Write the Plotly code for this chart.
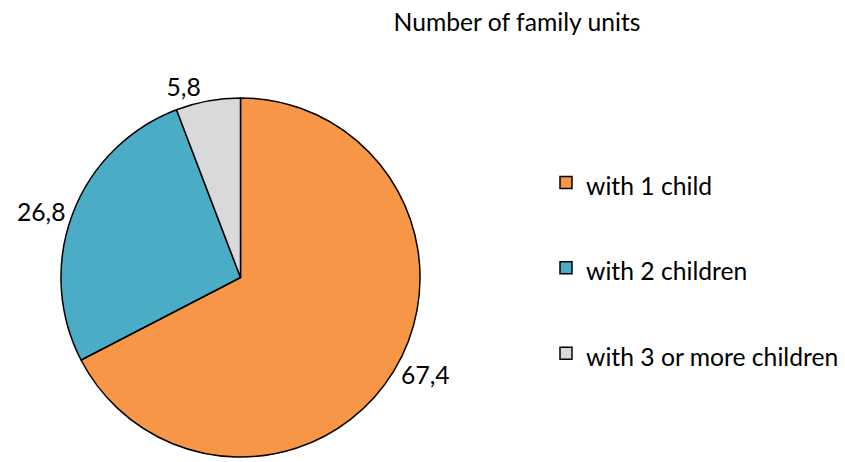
import plotly.graph_objects as go

labels = ["with 1 child", "with 2 children", "with 3 or more children"]
values = [67.4, 26.8, 5.8]
colors = ["#F79646", "#4BACC6", "#D9D9D9"]
title_text = "Number of family units"

W, H = 845, 462
cx, cy, r = 240.5, 280.5, 181.5
FONT = "Lato, Open Sans, sans-serif"
FS = 24.7

legend_labels = ["<span style='font-size:%spx'>%s</span><br> " % (FS, l) for l in labels]

fig = go.Figure(go.Pie(
    labels=legend_labels,
    values=values,
    sort=False,
    direction="clockwise",
    rotation=0,
    marker=dict(colors=colors, line=dict(color="black", width=1.5)),
    textposition="outside",
    texttemplate="%{value:.1f}",
    textfont=dict(size=FS, color="black", family=FONT),
    hoverinfo="skip",
    domain=dict(x=[(cx - r) / W, (cx + r) / W], y=[(H - cy - r) / H, (H - cy + r) / H]),
))

fig.update_layout(
    width=W, height=H,
    margin=dict(l=0, r=0, t=0, b=0),
    paper_bgcolor="white",
    separators=",.",
    font=dict(family=FONT, size=FS, color="black"),
    title=dict(text=title_text, x=517 / W, xanchor="center", y=1 - 22 / H, yanchor="middle",
               font=dict(size=FS, color="black", family=FONT)),
    legend=dict(x=546 / W, xanchor="left", y=1 - 157 / H, yanchor="top",
                valign="top", font=dict(size=31.7, color="black", family=FONT),
                itemclick=False),
)

fig.write_html("out.html", config={"displayModeBar": False},
               post_script="document.body.style.margin='0';")
